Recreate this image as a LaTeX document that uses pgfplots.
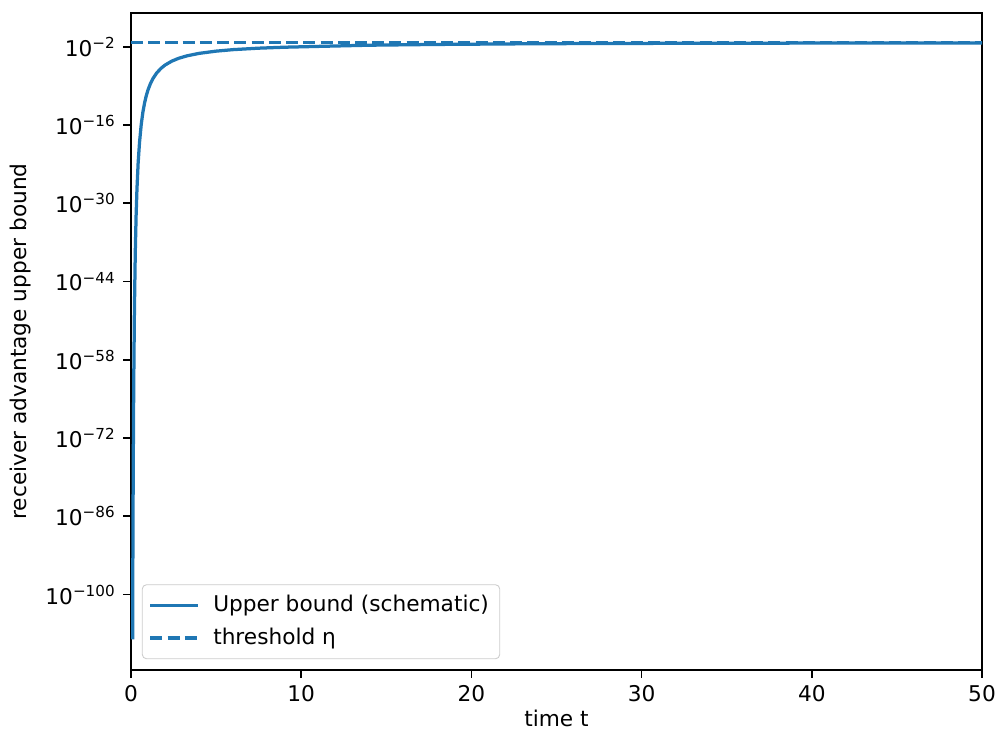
\documentclass[border=0pt]{standalone}
\usepackage{fontspec}
\setmainfont{DejaVu Sans}
\usepackage{pgfplots}
\pgfplotsset{compat=1.18}
\usetikzlibrary{calc}
\definecolor{mplblue}{HTML}{1F77B4}
\begin{document}
\begin{tikzpicture}
\begin{axis}[
  scale only axis,
  width=392.7pt, height=303.2pt,
  xmin=0, xmax=50,
  ymode=log,
  ymin=3.16e-114, ymax=1.1e4,
  xtick={0,10,20,30,40,50},
  ytick={1e-100,1e-86,1e-72,1e-58,1e-44,1e-30,1e-16,1e-2},
  yticklabels={10\textsuperscript{−100},10\textsuperscript{−86},10\textsuperscript{−72},10\textsuperscript{−58},10\textsuperscript{−44},10\textsuperscript{−30},10\textsuperscript{−16},10\textsuperscript{−2}},
  yminorticks=false,
  xminorticks=false,
  tick align=outside,
  tick pos=left,
  major tick length=3.5pt,
  every tick/.style={black, line width=0.8pt},
  axis line style={line width=0.8pt},
  xticklabel style={/pgf/number format/assume math mode=true},
  tick label style={font=\fontsize{10pt}{12pt}\selectfont},
  label style={font=\fontsize{10pt}{12pt}\selectfont},
  xlabel={time t},
  ylabel={receiver advantage upper bound},
  xlabel style={at={(axis description cs:0.5,-0.073)}, anchor=center},
  ylabel style={at={(axis description cs:-0.13,0.5)}, anchor=center},
  legend style={at={(0,0)}, anchor=south west, xshift=5pt, yshift=5pt,
    draw=black!20, rounded corners=2pt, fill=white, fill opacity=0.8, text opacity=1,
    font=\fontsize{10pt}{12pt}\selectfont, row sep=2pt, inner xsep=3pt, inner ysep=3pt},
  legend cell align=left,
  legend image code/.code={\draw[#1] (0pt,0pt) -- (22pt,0pt); \path[draw=none] (0pt,0pt) -- (27pt,0pt);},
]
\addplot[mplblue, line width=1.5pt, line join=round] coordinates {
(0.095,1e-108) (0.11,3.98e-93) (0.13,5.01e-78) (0.16,7.94e-63) (0.2,7.94e-50) (0.25,1.58e-39)
(0.3,7.94e-33) (0.35,3.98e-28) (0.42,2.0e-23) (0.5,7.94e-20) (0.6,1.26e-16) (0.7,2.24e-14)
(0.8,1e-12) (0.9,1.95e-11) (1.0,2.0e-10) (1.15,3.02e-9) (1.3,2.34e-8) (1.5,1.91e-7)
(1.75,1.29e-6) (2.0,5.37e-6) (2.4,2.75e-5) (2.8,8.71e-5) (3.3,2.45e-4) (4.0,6.61e-4)
(5.0,1.66e-3) (6.0,3.09e-3) (7.5,5.62e-3) (9,8.32e-3) (11,1.17e-2) (14,1.91e-2)
(18,2.63e-2) (24,3.55e-2) (32,4.17e-2) (40,4.57e-2) (50,4.79e-2)
};
\addlegendentry{Upper bound (schematic)}
\addplot[mplblue, line width=1.5pt, dash pattern=on 5.55pt off 2.4pt] coordinates {(0,5e-2) (50,5e-2)};
\addlegendentry{threshold η}
\end{axis}
\pgfresetboundingbox
\path[use as bounding box] ($(current axis.south west)+(-60.46pt,-31.38pt)$) rectangle ($(current axis.north east)+(7.38pt,6.0pt)$);
\end{tikzpicture}
\end{document}
